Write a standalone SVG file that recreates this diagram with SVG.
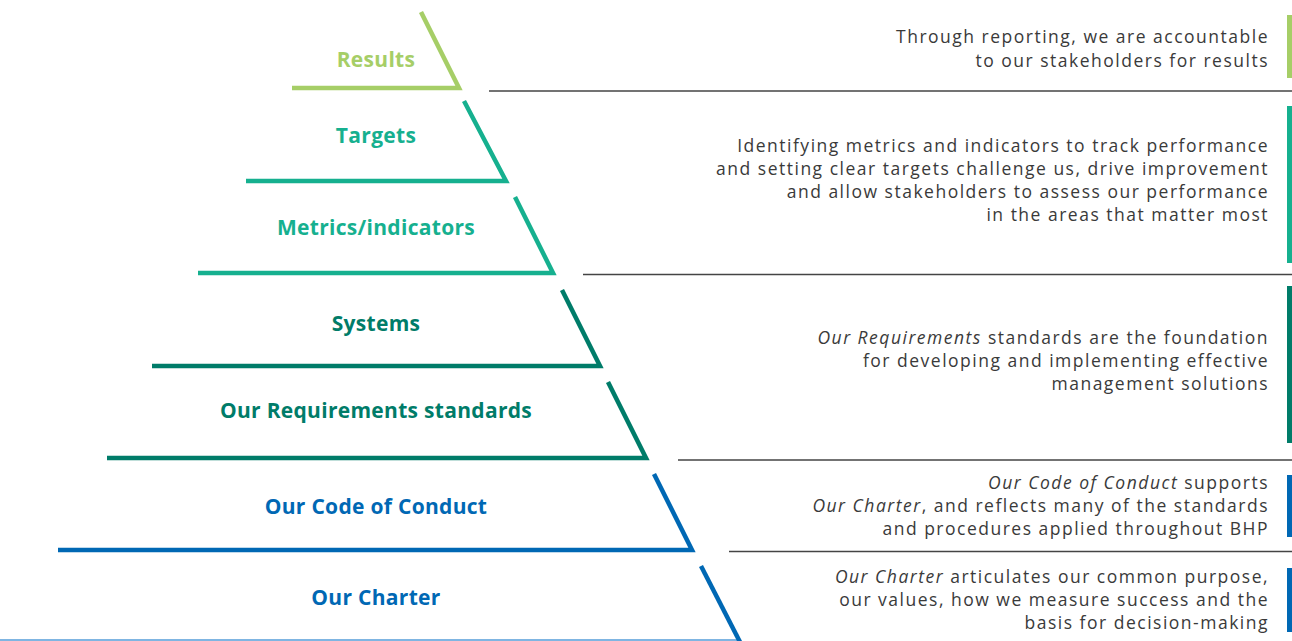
<svg xmlns="http://www.w3.org/2000/svg" width="1292" height="641" viewBox="0 0 1292 641">
<style>
.lbl{font-family:"Open Sans","Liberation Sans",sans-serif;font-weight:700;font-size:21px;letter-spacing:0.3px;text-anchor:middle}
.desc{font-family:"Open Sans","Liberation Sans",sans-serif;font-size:17.5px;letter-spacing:1.5px;fill:#3a3a3a;text-anchor:end}
.tier{fill:none;stroke-width:4.5;stroke-linejoin:miter}
.sep{stroke:#444;stroke-width:1.3}
.g1{stroke:#a6ce67}.g2{stroke:#16b08f}.g3{stroke:#007c69}.g4{stroke:#0068b4}
.f1{fill:#a6ce67}.f2{fill:#16b08f}.f3{fill:#007c69}.f4{fill:#0068b4}
</style>
<rect width="1292" height="641" fill="#ffffff"/>
<g id="connectors">
<line class="sep" x1="489" y1="91" x2="1292" y2="91"/>
<line class="sep" x1="583" y1="274.5" x2="1292" y2="274.5"/>
<line class="sep" x1="678" y1="460" x2="1292" y2="460"/>
<line class="sep" x1="729" y1="551.5" x2="1292" y2="551.5"/>
<line x1="0" y1="640" x2="740" y2="640" stroke="#7fb5e2" stroke-width="2"/>
</g>
<g id="results">
<polyline class="tier g1" points="292,88 459,88 421,12"/>
<text class="lbl f1" x="376" y="67">Results</text>
<rect class="f1" x="1287" y="15" width="5" height="63"/>
<text class="desc"><tspan x="1269" y="43">Through reporting, we are accountable</tspan><tspan x="1269" y="67">to our stakeholders for results</tspan></text>
</g>
<g id="targets">
<polyline class="tier g2" points="246,181 506,181 464,101"/>
<text class="lbl f2" x="376" y="143">Targets</text>
</g>
<g id="metrics">
<polyline class="tier g2" points="198,273 553,273 515,197"/>
<text class="lbl f2" x="376" y="235">Metrics/indicators</text>
<rect class="f2" x="1287" y="106" width="5" height="157"/>
<text class="desc"><tspan x="1269" y="152">Identifying metrics and indicators to track performance</tspan><tspan x="1269" y="175">and setting clear targets challenge us, drive improvement</tspan><tspan x="1269" y="198">and allow stakeholders to assess our performance</tspan><tspan x="1269" y="221">in the areas that matter most</tspan></text>
</g>
<g id="systems">
<polyline class="tier g3" points="152,366 600,366 562,290"/>
<text class="lbl f3" x="376" y="331">Systems</text>
</g>
<g id="requirements">
<polyline class="tier g3" points="107,458 646,458 608,382"/>
<text class="lbl f3" x="376" y="418">Our Requirements standards</text>
<rect class="f3" x="1287" y="286" width="5" height="157"/>
<text class="desc"><tspan x="1269" y="344"><tspan font-style="italic">Our Requirements</tspan> standards are the foundation</tspan><tspan x="1269" y="367">for developing and implementing effective</tspan><tspan x="1269" y="390">management solutions</tspan></text>
</g>
<g id="code">
<polyline class="tier g4" points="58,550 692,550 654,474"/>
<text class="lbl f4" x="376" y="514">Our Code of Conduct</text>
<rect class="f4" x="1287" y="475" width="5" height="62"/>
<text class="desc"><tspan x="1269" y="489"><tspan font-style="italic">Our Code of Conduct</tspan> supports</tspan><tspan x="1269" y="512"><tspan font-style="italic">Our Charter</tspan>, and reflects many of the standards</tspan><tspan x="1269" y="535">and procedures applied throughout BHP</tspan></text>
</g>
<g id="charter">
<line class="tier g4" x1="701" y1="566" x2="740" y2="642"/>
<text class="lbl f4" x="376" y="605">Our Charter</text>
<rect class="f4" x="1287" y="568" width="5" height="64"/>
<text class="desc"><tspan x="1269" y="583"><tspan font-style="italic">Our Charter</tspan> articulates our common purpose,</tspan><tspan x="1269" y="606">our values, how we measure success and the</tspan><tspan x="1269" y="629">basis for decision-making</tspan></text>
</g>
</svg>
